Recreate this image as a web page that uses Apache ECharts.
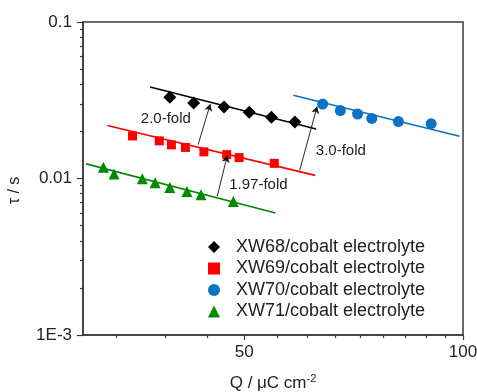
<!DOCTYPE html>
<html>
<head>
<meta charset="utf-8">
<script src="https://cdn.jsdelivr.net/npm/echarts@6/dist/echarts.min.js"></script>
<style>
  html, body { margin: 0; padding: 0; background: #fff; }
  #chart { width: 477px; height: 392px; }
</style>
</head>
<body>
<div id="chart"></div>
<script>
// measured points: Q (uC cm^-2) and tau (s)
const xw68Q = [39.5, 42.6, 46.9, 50.8, 54.5, 58.7];
const xw68Tau = [0.0330, 0.0304, 0.0286, 0.0265, 0.0246, 0.0230];
const xw69Q = [35.1, 38.2, 39.7, 41.5, 44.0, 47.3, 49.2, 55.0];
const xw69Tau = [0.0187, 0.0174, 0.0164, 0.0158, 0.0148, 0.0142, 0.0136, 0.0125];
const xw70Q = [64.1, 67.8, 71.6, 74.9, 81.5, 90.4];
const xw70Tau = [0.0299, 0.0272, 0.0258, 0.0242, 0.0231, 0.0224];
const xw71Q = [32.0, 33.1, 36.2, 37.7, 39.5, 41.7, 43.6, 48.3];
const xw71Tau = [0.0118, 0.0107, 0.00997, 0.0094, 0.00877, 0.00827, 0.00788, 0.00714];

// fitted lines (end points)
const fit68Q = [37.1, 62.8], fit68Tau = [0.0384, 0.0207];
const fit69Q = [32.4, 62.6], fit69Tau = [0.0218, 0.01047];
const fit70Q = [58.4, 98.9], fit70Tau = [0.0340, 0.0186];
const fit71Q = [30.3, 55.2], fit71Tau = [0.0124, 0.00602];

// fold-change arrows: [fromQ, fromTau, toQ, toTau]
const arrows = [
    [43.2, 0.01644, 44.9, 0.0299],
    [45.9, 0.00768, 47.4, 0.01405],
    [59.6, 0.01127, 63.0, 0.02888]
];
const foldLabels = ['2.0-fold', '1.97-fold', '3.0-fold'];
const foldLabelQ = [39.0, 52.3, 67.9];
const foldLabelTau = [0.0240, 0.00913, 0.0151];

const seriesNames = ['XW68/cobalt electrolyte', 'XW69/cobalt electrolyte', 'XW70/cobalt electrolyte', 'XW71/cobalt electrolyte'];

// axis ranges and ticks (both axes are logarithmic)
const xRange = [30, 100];
const yRange = [0.001, 0.1];
const xMajorTicks = [50, 100];
const xMajorLabels = ['50', '100'];
const xMinorTicks = [33.33, 38.89, 44.44, 55.56, 61.11, 66.67, 72.22, 77.78, 83.33, 88.89, 94.44];
const yMajorTicks = [0.001, 0.01, 0.1];
const yMajorLabels = ['1E-3', '0.01', '0.1'];
const yMinorTicks = [0.002, 0.003, 0.004, 0.005, 0.006, 0.007, 0.008, 0.009,
                     0.02, 0.03, 0.04, 0.05, 0.06, 0.07, 0.08, 0.09];

const FONT = '"Liberation Sans", Arial, sans-serif';
const AXIS_COLOR = '#3a3a3a';
const TEXT_COLOR = '#222';

// the axes are value axes in log10 space
const lg = Math.log10;
const toLog = (qs, ts) => qs.map((q, i) => [lg(q), lg(ts[i])]);
const nearestLabel = (ticks, labels) => v => {
    let best = 0;
    ticks.forEach((t, i) => { if (Math.abs(lg(t) - v) < Math.abs(lg(ticks[best]) - v)) best = i; });
    return labels[best];
};

const chart = echarts.init(document.getElementById('chart'), null, { renderer: 'canvas' });

const axisLineStyle = { color: AXIS_COLOR, width: 1.5 };
const tickStyle = { color: AXIS_COLOR, width: 1.2 };

const option = {
    animation: false,
    backgroundColor: '#fff',
    textStyle: { fontFamily: FONT },
    grid: {
        left: 83, right: 14, top: 22, bottom: 57,
        outerBoundsMode: 'none',
        show: true, borderColor: AXIS_COLOR, borderWidth: 1.5, backgroundColor: 'transparent'
    },
    legend: {
        orient: 'vertical',
        left: 203,
        top: 233,
        itemWidth: 12,
        itemHeight: 12,
        itemGap: 3.5,
        textStyle: { fontSize: 18, color: TEXT_COLOR, fontFamily: FONT, lineHeight: 18, padding: [0, 0, 0, 11] },
        data: [
            { name: seriesNames[0], icon: 'diamond' },
            { name: seriesNames[1], icon: 'rect' },
            { name: seriesNames[2], icon: 'circle' },
            { name: seriesNames[3], icon: 'triangle' }
        ]
    },
    xAxis: [
        {
            type: 'value', min: lg(xRange[0]), max: lg(xRange[1]),
            position: 'bottom',
            axisLine: { lineStyle: axisLineStyle },
            axisTick: { customValues: xMajorTicks.map(lg), length: 5, lineStyle: tickStyle },
            axisLabel: {
                customValues: xMajorTicks.map(lg), fontSize: 17, color: TEXT_COLOR, margin: 9, fontFamily: FONT,
                formatter: nearestLabel(xMajorTicks, xMajorLabels)
            },
            splitLine: { show: false },
            name: '{a|Q / \u03bcC cm}{s|-2}',
            nameLocation: 'middle',
            nameGap: 38,
            nameTextStyle: {
                rich: {
                    a: { fontSize: 17, color: TEXT_COLOR, fontFamily: FONT },
                    s: { fontSize: 11, color: TEXT_COLOR, fontFamily: FONT, padding: [0, 0, 9, 0] }
                }
            }
        },
        {
            type: 'value', min: lg(xRange[0]), max: lg(xRange[1]),
            position: 'bottom',
            axisLine: { show: false },
            axisTick: { customValues: xMinorTicks.map(lg), length: 3, lineStyle: tickStyle },
            axisLabel: { show: false },
            splitLine: { show: false }
        }
    ],
    yAxis: [
        {
            type: 'value', min: lg(yRange[0]), max: lg(yRange[1]),
            position: 'left',
            axisLine: { lineStyle: axisLineStyle },
            axisTick: { customValues: yMajorTicks.map(lg), length: 6, lineStyle: tickStyle },
            axisLabel: {
                customValues: yMajorTicks.map(lg), fontSize: 17, color: TEXT_COLOR, margin: 11, fontFamily: FONT,
                formatter: nearestLabel(yMajorTicks, yMajorLabels)
            },
            splitLine: { show: false },
            name: '\u03c4 / s',
            nameLocation: 'middle',
            nameGap: 60,
            nameTextStyle: { fontSize: 16, color: TEXT_COLOR, fontFamily: FONT, padding: [0, 24, 0, 0] }
        },
        {
            type: 'value', min: lg(yRange[0]), max: lg(yRange[1]),
            position: 'left',
            axisLine: { show: false },
            axisTick: { customValues: yMinorTicks.map(lg), length: 3, lineStyle: tickStyle },
            axisLabel: { show: false },
            splitLine: { show: false }
        }
    ],
    series: [
        {
            name: 'fit68', type: 'line', data: toLog(fit68Q, fit68Tau), symbol: 'none',
            lineStyle: { color: '#000', width: 1.6 }, silent: true,
            markLine: {
                silent: true,
                symbol: ['none', 'arrow'],
                symbolSize: [6, 7],
                label: { show: false },
                lineStyle: { color: '#111', width: 0.9, type: 'solid' },
                data: arrows.map(a => [{ coord: [lg(a[0]), lg(a[1])] }, { coord: [lg(a[2]), lg(a[3])] }])
            },
            markPoint: {
                silent: true,
                symbol: 'circle',
                symbolSize: 1,
                itemStyle: { color: 'rgba(0,0,0,0)' },
                label: { show: true, position: 'inside', formatter: '{b}', fontSize: 15, color: TEXT_COLOR, fontFamily: FONT },
                data: foldLabels.map((t, i) => ({ name: t, coord: [lg(foldLabelQ[i]), lg(foldLabelTau[i])] }))
            }
        },
        { name: 'fit69', type: 'line', data: toLog(fit69Q, fit69Tau), symbol: 'none', lineStyle: { color: '#ff0000', width: 1.6 }, silent: true },
        { name: 'fit70', type: 'line', data: toLog(fit70Q, fit70Tau), symbol: 'none', lineStyle: { color: '#0b72c6', width: 1.6 }, silent: true },
        { name: 'fit71', type: 'line', data: toLog(fit71Q, fit71Tau), symbol: 'none', lineStyle: { color: '#008a00', width: 1.6 }, silent: true },
        {
            name: seriesNames[0], type: 'scatter', data: toLog(xw68Q, xw68Tau),
            symbol: 'diamond', symbolSize: 13, itemStyle: { color: '#000', opacity: 1 }
        },
        {
            name: seriesNames[1], type: 'scatter', data: toLog(xw69Q, xw69Tau),
            symbol: 'rect', symbolSize: 9, itemStyle: { color: '#ff0000', opacity: 1 }
        },
        {
            name: seriesNames[2], type: 'scatter', data: toLog(xw70Q, xw70Tau),
            symbol: 'circle', symbolSize: 11, itemStyle: { color: '#0b72c6', opacity: 1 }
        },
        {
            name: seriesNames[3], type: 'scatter', data: toLog(xw71Q, xw71Tau),
            symbol: 'triangle', symbolSize: 11, itemStyle: { color: '#008a00', opacity: 1 }
        }
    ]
};

chart.setOption(option);
</script>
</body>
</html>
